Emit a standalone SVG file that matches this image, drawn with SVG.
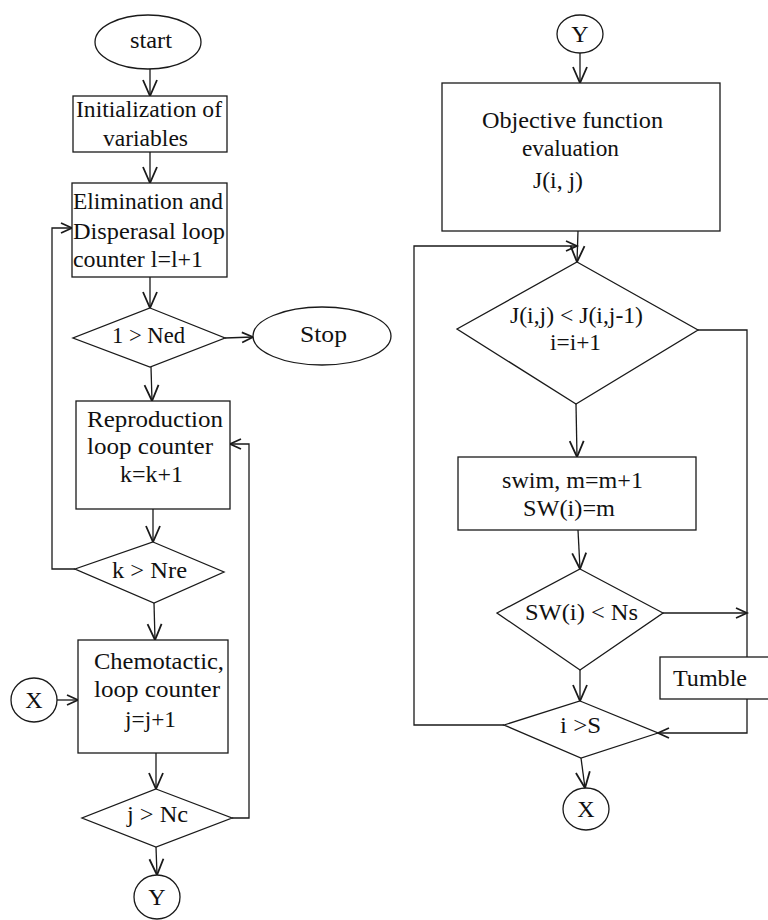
<svg xmlns="http://www.w3.org/2000/svg" width="768" height="920" viewBox="0 0 768 920">
  <defs>
    <style>
      .shape { fill: #ffffff; stroke: #1a1a1a; stroke-width: 1.3; }
      .wire { fill: none; stroke: #1a1a1a; stroke-width: 1.3; }
      text { font-family: "Liberation Serif", "Times New Roman", serif; font-size: 24px; fill: #111111; }
    </style>
    <!-- open V arrowheads: larger for vertical flow, smaller for side inputs -->
    <marker id="av" markerUnits="userSpaceOnUse" markerWidth="20" markerHeight="20" viewBox="-17 -10 20 20" refX="0" refY="0" orient="auto">
      <path d="M-16,-7 L0,0 L-16,7" fill="none" stroke="#1a1a1a" stroke-width="1.8"/>
    </marker>
    <marker id="ah" markerUnits="userSpaceOnUse" markerWidth="16" markerHeight="16" viewBox="-13 -8 16 16" refX="0" refY="0" orient="auto">
      <path d="M-11,-5 L0,0 L-11,5" fill="none" stroke="#1a1a1a" stroke-width="1.7"/>
    </marker>
  </defs>
  <rect width="768" height="920" fill="#ffffff"/>

  <!-- connectors -->
  <g id="connectors">
    <line class="wire" x1="150" y1="69" x2="150" y2="96" marker-end="url(#av)"/>
    <line class="wire" x1="150" y1="152" x2="150" y2="183" marker-end="url(#av)"/>
    <line class="wire" x1="150" y1="277" x2="150" y2="308" marker-end="url(#av)"/>
    <line class="wire" x1="225" y1="338" x2="253" y2="337" marker-end="url(#ah)"/>
    <line class="wire" x1="151" y1="367" x2="152" y2="401" marker-end="url(#av)"/>
    <line class="wire" x1="153" y1="509" x2="153" y2="542" marker-end="url(#av)"/>
    <polyline class="wire" points="75,569 52,569 52,228 72,228" marker-end="url(#ah)"/>
    <line class="wire" x1="154" y1="603" x2="155" y2="640" marker-end="url(#av)"/>
    <line class="wire" x1="57" y1="700" x2="78" y2="700" marker-end="url(#ah)"/>
    <line class="wire" x1="156" y1="753" x2="156" y2="789" marker-end="url(#av)"/>
    <polyline class="wire" points="232,818 249,818 249,444 230,444" marker-end="url(#ah)"/>
    <line class="wire" x1="156" y1="847" x2="157" y2="875" marker-end="url(#av)"/>

    <line class="wire" x1="580" y1="53" x2="580" y2="83" marker-end="url(#av)"/>
    <line class="wire" x1="578" y1="231" x2="577" y2="262" marker-end="url(#av)"/>
    <polyline class="wire" points="504,725 414,725 414,246 577,246" marker-end="url(#ah)"/>
    <line class="wire" x1="576" y1="404" x2="577" y2="457" marker-end="url(#av)"/>
    <polyline class="wire" points="698,330 747,330 747,657"/>
    <line class="wire" x1="578" y1="530" x2="580" y2="569" marker-end="url(#av)"/>
    <line class="wire" x1="663" y1="613" x2="747" y2="613" marker-end="url(#ah)"/>
    <line class="wire" x1="580" y1="670" x2="580" y2="701" marker-end="url(#av)"/>
    <polyline class="wire" points="747,699 747,733 658,733" marker-end="url(#ah)"/>
    <line class="wire" x1="581" y1="758" x2="585" y2="788" marker-end="url(#av)"/>
  </g>

  <!-- left column -->
  <g id="start">
    <ellipse class="shape" cx="148" cy="42" rx="53" ry="27"/>
    <text x="130" y="48" textLength="42" lengthAdjust="spacingAndGlyphs">start</text>
  </g>
  <g id="init">
    <rect class="shape" x="73" y="96" width="154" height="56"/>
    <text x="76" y="117" textLength="146" lengthAdjust="spacingAndGlyphs">Initialization of</text>
    <text x="103" y="146" textLength="85" lengthAdjust="spacingAndGlyphs">variables</text>
  </g>
  <g id="elimination">
    <rect class="shape" x="72" y="183" width="155" height="94"/>
    <text x="73" y="209" textLength="150" lengthAdjust="spacingAndGlyphs">Elimination and</text>
    <text x="73" y="239" textLength="152" lengthAdjust="spacingAndGlyphs">Disperasal loop</text>
    <text x="73" y="267" textLength="130" lengthAdjust="spacingAndGlyphs">counter l=l+1</text>
  </g>
  <g id="check-ned">
    <polygon class="shape" points="150,308 225,338 150,367 73,338"/>
    <text x="112" y="343" textLength="73" lengthAdjust="spacingAndGlyphs">1 &gt; Ned</text>
  </g>
  <g id="stop">
    <ellipse class="shape" cx="322" cy="336" rx="69" ry="29"/>
    <text x="300" y="342" textLength="47" lengthAdjust="spacingAndGlyphs">Stop</text>
  </g>
  <g id="reproduction">
    <rect class="shape" x="76" y="401" width="154" height="108"/>
    <text x="87" y="427" textLength="136" lengthAdjust="spacingAndGlyphs">Reproduction</text>
    <text x="87" y="454" textLength="126" lengthAdjust="spacingAndGlyphs">loop counter</text>
    <text x="120" y="482" textLength="63" lengthAdjust="spacingAndGlyphs">k=k+1</text>
  </g>
  <g id="check-nre">
    <polygon class="shape" points="153,542 224,572 154,603 75,569"/>
    <text x="112" y="578" textLength="75" lengthAdjust="spacingAndGlyphs">k &gt; Nre</text>
  </g>
  <g id="chemotactic">
    <rect class="shape" x="78" y="640" width="150" height="113"/>
    <text x="94" y="669" textLength="130" lengthAdjust="spacingAndGlyphs">Chemotactic,</text>
    <text x="94" y="697" textLength="126" lengthAdjust="spacingAndGlyphs">loop counter</text>
    <text x="125" y="727" textLength="51" lengthAdjust="spacingAndGlyphs">j=j+1</text>
  </g>
  <g id="connector-x-in">
    <ellipse class="shape" cx="34" cy="700" rx="23" ry="22"/>
    <text x="34" y="708" text-anchor="middle">X</text>
  </g>
  <g id="check-nc">
    <polygon class="shape" points="156,789 232,818 156,847 82,818"/>
    <text x="127" y="822" textLength="61" lengthAdjust="spacingAndGlyphs">j &gt; Nc</text>
  </g>
  <g id="connector-y-out">
    <ellipse class="shape" cx="157" cy="897" rx="23" ry="22"/>
    <text x="157" y="905" text-anchor="middle">Y</text>
  </g>

  <!-- right column -->
  <g id="connector-y-in">
    <ellipse class="shape" cx="580" cy="34" rx="23" ry="19"/>
    <text x="580" y="42" text-anchor="middle">Y</text>
  </g>
  <g id="objective">
    <rect class="shape" x="442" y="83" width="278" height="148"/>
    <text x="482" y="128" textLength="181" lengthAdjust="spacingAndGlyphs">Objective function</text>
    <text x="522" y="156" textLength="97" lengthAdjust="spacingAndGlyphs">evaluation</text>
    <text x="533" y="188" textLength="50" lengthAdjust="spacingAndGlyphs">J(i, j)</text>
  </g>
  <g id="compare-cost">
    <polygon class="shape" points="577,262 698,330 576,404 457,329"/>
    <text x="510" y="323" textLength="133" lengthAdjust="spacingAndGlyphs">J(i,j) &lt; J(i,j-1)</text>
    <text x="550" y="350" textLength="51" lengthAdjust="spacingAndGlyphs">i=i+1</text>
  </g>
  <g id="swim">
    <rect class="shape" x="458" y="457" width="238" height="73"/>
    <text x="502" y="488" textLength="141" lengthAdjust="spacingAndGlyphs">swim, m=m+1</text>
    <text x="523" y="516" textLength="92" lengthAdjust="spacingAndGlyphs">SW(i)=m</text>
  </g>
  <g id="check-ns">
    <polygon class="shape" points="580,569 663,613 580,670 497,613"/>
    <text x="525" y="620" textLength="113" lengthAdjust="spacingAndGlyphs">SW(i) &lt; Ns</text>
  </g>
  <g id="tumble">
    <rect class="shape" x="660" y="657" width="120" height="42"/>
    <text x="673" y="686" textLength="74" lengthAdjust="spacingAndGlyphs">Tumble</text>
  </g>
  <g id="check-s">
    <polygon class="shape" points="580,701 658,733 581,758 504,725"/>
    <text x="560" y="733" textLength="41" lengthAdjust="spacingAndGlyphs">i &gt;S</text>
  </g>
  <g id="connector-x-out">
    <ellipse class="shape" cx="586" cy="809" rx="23" ry="21"/>
    <text x="586" y="817" text-anchor="middle">X</text>
  </g>
</svg>
